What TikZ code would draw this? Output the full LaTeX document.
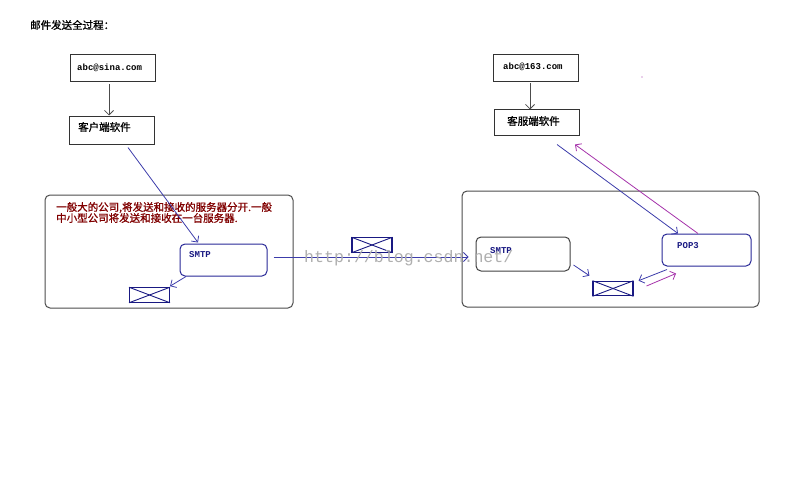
\documentclass[tikz,border=0pt]{standalone}
\usepackage{fontspec}
\setmonofont{Liberation Mono}
\newfontfamily\cjk[FakeBold=1.2]{Noto Sans CJK SC}
\definecolor{lineblue}{RGB}{60,60,170}
\definecolor{boxblue}{RGB}{40,40,150}
\definecolor{envblue}{RGB}{25,25,130}
\definecolor{linepurple}{RGB}{165,50,170}
\definecolor{notered}{RGB}{128,0,0}
\definecolor{markgray}{RGB}{175,175,175}
\usetikzlibrary{arrows.meta}
\tikzset{
	>={Straight Barb[length=4.5pt,width=9pt]},
	mailbox/.style={draw=black!80,line width=1pt,inner sep=0pt},
	outerbox/.style={draw=black!70,line width=1pt,rounded corners=5pt,inner sep=0pt},
	serverbox/.style={draw=boxblue,line width=1pt,rounded corners=5pt,inner sep=0pt,minimum width=87pt,minimum height=32pt},
	envelope/.style={draw=envblue,line width=1.1pt,inner sep=0pt,minimum width=40pt,minimum height=14.5pt},
	cjktext/.style={anchor=west,inner sep=0pt,font=\cjk\fontsize{10.5pt}{11pt}\selectfont},
	monotext/.style={anchor=west,inner sep=0pt,font=\ttfamily\bfseries\fontsize{9pt}{11pt}\selectfont},
	bluelink/.style={->,lineblue,line width=0.8pt},
	purplelink/.style={->,linepurple,line width=0.8pt},
	graylink/.style={->,black!70,line width=0.8pt}
}
\begin{document}
\begin{tikzpicture}[x=1pt, y=-1pt]
	\useasboundingbox (0,0) rectangle (800,492);
	\node (title) at (30, 25) [cjktext]{邮件发送全过程：};
	
	%sender side
	\node (sina) at (112.5, 68.5) [mailbox,minimum width=85pt,minimum height=27pt]{};
	\node (client) at (111.5, 130.5) [mailbox,minimum width=85pt,minimum height=27pt]{};
	\node (leftroom) at (169, 251.5) [outerbox,minimum width=248pt,minimum height=113pt]{};
	\node (smtpleft) at (223.5, 260) [serverbox]{};
	\node (envleft) at (149.5, 295) [envelope]{};
	
	%receiver side
	\node (mail163) at (535.5, 68.5) [mailbox,minimum width=85pt,minimum height=27pt]{};
	\node (servsoft) at (536.5, 123) [mailbox,minimum width=85pt,minimum height=26pt]{};
	\node (rightroom) at (610.5, 249) [outerbox,minimum width=297pt,minimum height=116pt]{};
	\node (smtpright) at (523, 254) [serverbox,draw=black!75,minimum width=94pt,minimum height=34pt]{};
	\node (pop) at (706.5, 250) [serverbox,minimum width=89pt]{};
	\node (envright) at (613, 288.5) [envelope]{};
	
	\node (envmid) at (372, 245) [envelope]{};
	
	\foreach \e in {envleft, envmid, envright}{
		\draw[envblue, line width=0.9pt] (\e.north west)--(\e.south east);
		\draw[envblue, line width=0.9pt] (\e.south west)--(\e.north east);
	}
	
	\node (sinatext) at (77, 68) [monotext]{abc@sina.com};
	\node (clienttext) at (78, 127) [cjktext]{客户端软件};
	\node (notetext) at (56, 212.5) [cjktext,align=left,text=notered]{一般大的公司,将发送和接收的服务器分开.一般\\中小型公司将发送和接收在一台服务器.};
	\node (smtplefttext) at (189, 255) [monotext,text=envblue]{SMTP};
	\node (text163) at (503, 67) [monotext]{abc@163.com};
	\node (servsofttext) at (507, 121) [cjktext]{客服端软件};
	\node (smtprighttext) at (490, 251) [monotext,text=envblue]{SMTP};
	\node (poptext) at (677, 246) [monotext,text=envblue]{POP3};
	
	\node (straydot) at (642, 77) [circle,fill=linepurple,inner sep=0.4pt]{};
	
	%links
	\draw[graylink] ([shift={(-3.5,2)}]sina.south)--([shift={(-2.5,-1)}]client.north);
	\draw[graylink] ([shift={(-5.5,1)}]mail163.south)--([shift={(-6.5,0)}]servsoft.north);
	\draw[bluelink] ([shift={(16.5,3)}]client.south)--([shift={(-25.5,-1)}]smtpleft.north);
	\draw[bluelink] ([shift={(-37.5,0)}]smtpleft.south)--([shift={(0,-1)}]envleft.north east);
	\draw[bluelink] ([shift={(6,-3)}]smtpleft.east)--([shift={(-7,3)}]smtpright.west);
	\draw[bluelink] ([shift={(3,11)}]smtpright.east)--([shift={(-3,-5)}]envright.north west);
	\draw[bluelink] ([shift={(20.5,8)}]servsoft.south)--([shift={(-28.5,0)}]pop.north);
	\draw[purplelink] ([shift={(-8.5,0)}]pop.north)--([shift={(38.5,8)}]servsoft.south);
	\draw[bluelink] ([shift={(-39.5,3)}]pop.south)--([shift={(5,0)}]envright.north east);
	\draw[purplelink] ([shift={(13,-2.5)}]envright.east)--([shift={(-30.5,7)}]pop.south);
	
	\node (watermark) at (304, 258) [anchor=west,inner sep=0pt,text=markgray,font=\ttfamily\fontsize{16.6pt}{18pt}\selectfont]{http://blog.csdn.net/};
\end{tikzpicture}
\end{document}
